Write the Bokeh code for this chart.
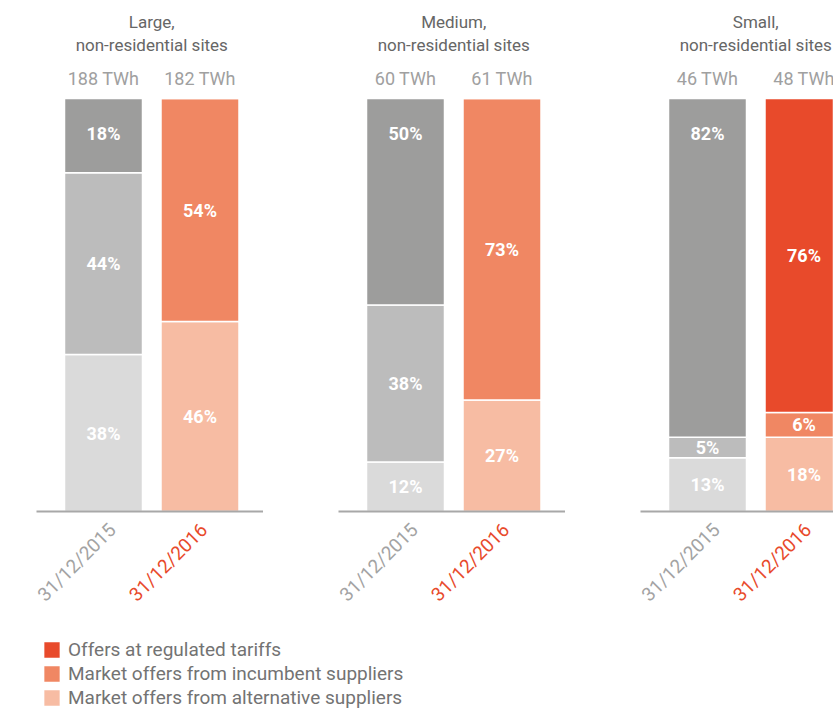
import numpy as np
from bokeh.plotting import figure
from bokeh.models import Range1d, ColumnDataSource, Legend, LegendItem
from bokeh.core.properties import value
from bokeh.embed import file_html
from bokeh.resources import INLINE

# ---------------- data ----------------
panel_line1 = ["Large,", "Medium,", "Small,"]
panel_line2 = ["non-residential sites", "non-residential sites", "non-residential sites"]
years = ["31/12/2015", "31/12/2016"]
twh_2015 = [188, 60, 46]
twh_2016 = [182, 61, 48]
series_names = ["Offers at regulated tariffs",
                "Market offers from incumbent suppliers",
                "Market offers from alternative suppliers"]
reg_2015 = [18, 50, 82]
inc_2015 = [44, 38, 5]
alt_2015 = [38, 12, 13]
reg_2016 = [0, 0, 76]
inc_2016 = [54, 73, 6]
alt_2016 = [46, 27, 18]

# ---------------- style / layout ----------------
GRAYS = ["#dadada", "#bcbcbc", "#9d9d9c"]      # alt, inc, reg
ORANGES = ["#f7bca3", "#f08763", "#e84a2b"]    # alt, inc, reg
TITLE_C = "#666666"
TWH_C = "#a0a0a0"
Y15_C = "#a3a3a3"
Y16_C = "#e84a2b"
BASE_C = "#a8a8a8"
FONT = value("Roboto")

W, H = 833, 712
PX = 4.13          # pixels per percentage point
BASE = 201         # baseline position, px from bottom of canvas
X0, PANEL, PAIR, BAR_W = 103, 302, 96.5, 78

def py(px):
    return px / PX

p = figure(width=W, height=H, x_range=Range1d(0, W),
           y_range=Range1d(-BASE / PX, (H - BASE) / PX),
           output_backend="svg", toolbar_location=None, min_border=0,
           x_axis_location=None, y_axis_location=None)
p.grid.visible = False
p.outline_line_color = None
p.background_fill_color = "white"

n = len(panel_line1)
x15 = [X0 + i * PANEL for i in range(n)]
x16 = [X0 + i * PANEL + PAIR for i in range(n)]

src15 = ColumnDataSource(dict(x=x15, alt=alt_2015, inc=inc_2015, reg=reg_2015))
src16 = ColumnDataSource(dict(x=x16, alt=alt_2016, inc=inc_2016, reg=reg_2016))
stack = ["alt", "inc", "reg"]
p.vbar_stack(stack, x="x", width=BAR_W, source=src15, color=GRAYS,
             line_color="white", line_width=1.5)
r16 = p.vbar_stack(stack, x="x", width=BAR_W, source=src16, color=ORANGES,
                   line_color="white", line_width=1.5)

# baselines
p.segment(x0=[x - BAR_W / 2 - 28 for x in x15], x1=[x + BAR_W / 2 + 24 for x in x16],
          y0=[0] * n, y1=[0] * n, line_color=BASE_C, line_width=2)

# percentage labels
lx, ly, lt = [], [], []
for xs, cols, is15 in ((x15, (alt_2015, inc_2015, reg_2015), True),
                       (x16, (alt_2016, inc_2016, reg_2016), False)):
    for i in range(n):
        bottom = 0
        for k, col in enumerate(cols):
            v = col[i]
            if v > 0:
                yc = bottom + v / 2
                if is15 and k == 2:
                    yc = max(yc, 100 - py(35))
                lx.append(xs[i]); ly.append(yc); lt.append(f"{v}%")
            bottom += v
p.text(x=lx, y=ly, text=lt, text_color="white", text_font=FONT,
       text_font_style="bold", text_font_size="18px",
       text_align="center", text_baseline="middle")

# TWh labels
p.text(x=x15 + x16, y=[100 + py(20)] * (2 * n),
       text=[f"{v} TWh" for v in twh_2015 + twh_2016],
       text_color=TWH_C, text_font=FONT, text_font_size="18px",
       text_align="center", text_baseline="middle")

# panel titles
pc = [(a + b) / 2 for a, b in zip(x15, x16)]
p.text(x=pc, y=[100 + py(77)] * n, text=panel_line1, text_color=TITLE_C,
       text_font=FONT, text_font_size="17px", text_align="center", text_baseline="middle")
p.text(x=pc, y=[100 + py(54)] * n, text=panel_line2, text_color=TITLE_C,
       text_font=FONT, text_font_size="17px", text_align="center", text_baseline="middle")

# date labels
p.text(x=[x + 9 for x in x15], y=[-py(15)] * n, text=[years[0]] * n, angle=np.pi / 4,
       text_color=Y15_C, text_font=FONT, text_font_size="19px",
       text_align="right", text_baseline="middle")
p.text(x=[x + 4 for x in x16], y=[-py(15)] * n, text=[years[1]] * n, angle=np.pi / 4,
       text_color=Y16_C, text_font=FONT, text_font_size="19px",
       text_align="right", text_baseline="middle")

legend = Legend(items=[LegendItem(label=series_names[0], renderers=[r16[2]]),
                       LegendItem(label=series_names[1], renderers=[r16[1]]),
                       LegendItem(label=series_names[2], renderers=[r16[0]])],
                location=(41, 3), orientation="vertical",
                padding=0, margin=0, spacing=1, glyph_width=21, glyph_height=21,
                label_height=21, label_standoff=6,
                label_text_font="Roboto", label_text_font_size="19px",
                label_text_color="#737373", border_line_color=None,
                background_fill_alpha=0)
p.add_layout(legend)

open("out.html", "w").write(file_html(p, INLINE))
